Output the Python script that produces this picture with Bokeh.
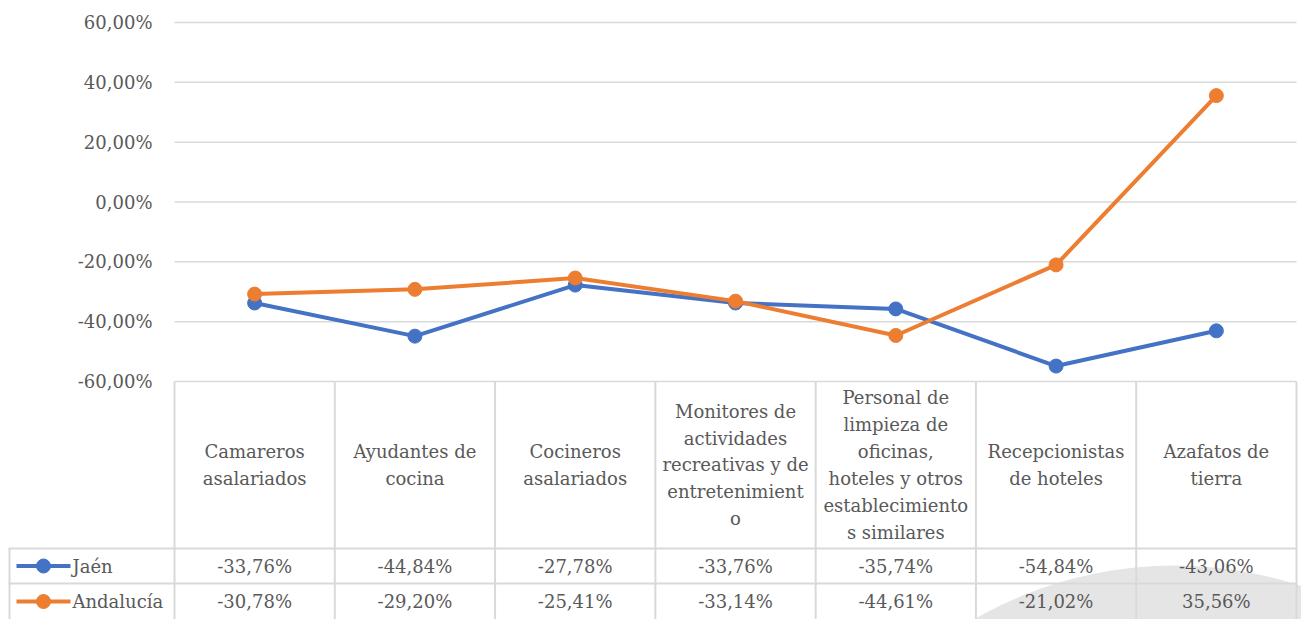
from bokeh.plotting import figure
from bokeh.models import Range1d, ColumnDataSource
from bokeh.core.properties import value
from bokeh.embed import file_html
from bokeh.resources import INLINE

# ---------------- data ----------------
categories = [
    "Camareros\nasalariados",
    "Ayudantes de\ncocina",
    "Cocineros\nasalariados",
    "Monitores de\nactividades\nrecreativas y de\nentretenimient\no",
    "Personal de\nlimpieza de\noficinas,\nhoteles y otros\nestablecimiento\ns similares",
    "Recepcionistas\nde hoteles",
    "Azafatos de\ntierra",
]
series_names = ["Jaén", "Andalucía"]
jaen = [-33.76, -44.84, -27.78, -33.76, -35.74, -54.84, -43.06]
andalucia = [-30.78, -29.20, -25.41, -33.14, -44.61, -21.02, 35.56]
y_ticks = [60, 40, 20, 0, -20, -40, -60]
colors = ["#4472C4", "#ED7D31"]

# ---------------- layout (page pixels -> data units) ----------------
W, H = 1301, 619
PAGE_X0, PAGE_Y0 = 0, 0
PLOT_LEFT = 174          # page x of first column boundary
COL_W = (1296 - 174) / 7  # px per category
Y_TOP_PX, Y_BOT_PX = 22, 381  # page y of 60% and -60%
PY = (Y_BOT_PX - Y_TOP_PX) / 120.0


def xd(px):
    return (px - PLOT_LEFT) / COL_W


def yd(py):
    return 60 - (py - Y_TOP_PX) / PY


x_start, x_end = xd(PAGE_X0), xd(PAGE_X0 + W)
y_top, y_bot = yd(PAGE_Y0), yd(PAGE_Y0 + H)

p = figure(width=W, height=H, output_backend="svg", toolbar_location=None,
           x_range=Range1d(x_start, x_end), y_range=Range1d(y_bot, y_top),
           x_axis_type=None, y_axis_type=None, min_border=0,
           outline_line_color=None, background_fill_color="white",
           border_fill_color="white")

FONT = value("DejaVu Serif")
TXT = "#595959"
GRID = "#d9d9d9"
FS = "18px"

# watermark-like grey disc at bottom right
p.ellipse(x=[xd(1174)], y=[yd(965)], width=[800], height=[800],
          width_units="screen", height_units="screen",
          fill_color="#e5e5e5", line_color=None)

n = len(categories)
# gridlines
p.segment(x0=[0] * len(y_ticks), x1=[n] * len(y_ticks), y0=y_ticks, y1=y_ticks,
          line_color=GRID, line_width=1.5)

# tick labels
p.text(x=[xd(152)] * len(y_ticks), y=y_ticks,
       text=[f"{t:.2f}".replace(".", ",") + "%" for t in y_ticks],
       text_font=FONT, text_font_size=FS, text_color=TXT,
       text_align="right", text_baseline="middle")

# table geometry
header_bottom = yd(548)
row1_bottom = yd(583)
row2_bottom = yd(619)
row_centers = [(header_bottom + row1_bottom) / 2, (row1_bottom + row2_bottom) / 2]

# table vertical lines
p.segment(x0=list(range(n + 1)), x1=list(range(n + 1)),
          y0=[-60] * (n + 1), y1=[row2_bottom] * (n + 1),
          line_color=GRID, line_width=2)
p.segment(x0=[xd(9)], x1=[xd(9)], y0=[header_bottom], y1=[row2_bottom],
          line_color=GRID, line_width=2)
# table horizontal lines
p.segment(x0=[xd(8), xd(8)], x1=[n, n], y0=[header_bottom, row1_bottom],
          y1=[header_bottom, row1_bottom], line_color=GRID, line_width=2)

# header labels
centers = [i + 0.5 for i in range(n)]
p.text(x=centers, y=[(-60 + header_bottom) / 2] * n, text=categories,
       text_font=FONT, text_font_size=FS, text_color=TXT,
       text_align="center", text_baseline="middle", text_line_height=1.28)

# value cells + legend keys
for k, (name, vals, col) in enumerate(zip(series_names, [jaen, andalucia], colors)):
    yc = row_centers[k]
    p.text(x=centers, y=[yc] * n,
           text=[f"{v:.2f}".replace(".", ",") + "%" for v in vals],
           text_font=FONT, text_font_size=FS, text_color=TXT,
           text_align="center", text_baseline="middle")
    p.segment(x0=[xd(16)], x1=[xd(70)], y0=[yc], y1=[yc], line_color=col,
              line_width=4)
    p.scatter(x=[xd(43)], y=[yc], size=14, marker="circle", fill_color=col,
              line_color=col)
    p.text(x=[xd(72)], y=[yc], text=[name], text_font=FONT, text_font_size=FS,
           text_color=TXT, text_align="left", text_baseline="middle")

# series
for name, vals, col in zip(series_names, [jaen, andalucia], colors):
    src = ColumnDataSource(dict(x=centers, y=vals))
    p.line("x", "y", source=src, line_color=col, line_width=4,
           line_join="round")
    p.scatter("x", "y", source=src, size=14, marker="circle",
              fill_color=col, line_color=col)

open("out.html", "w").write(file_html(p, INLINE))
